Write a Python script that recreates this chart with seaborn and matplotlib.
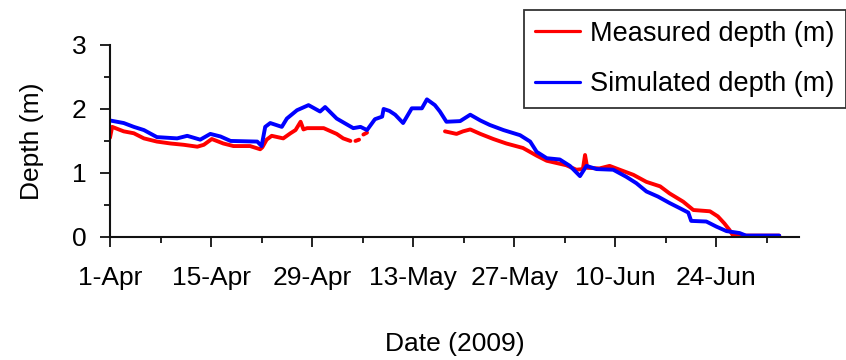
import numpy as np
import pandas as pd
import matplotlib
matplotlib.use("Agg")
import matplotlib.pyplot as plt
from matplotlib.lines import Line2D
import seaborn as sns

# days after 1 April 2009 (nan = gap in the record)
start = pd.Timestamp("2009-04-01")

meas_day = [0, 0.3, 1.9, 3.3, 4.7, 6.5, 8.4, 10.2, 12.1, 13.0,
            14.1, 15.7, 17.1, 19.4, 20.8, 21.1, 21.7, 22.4, 24.0, 25.0,
            25.7, 26.4, 26.8, 27.3, 29.6, 31.4, 32.3, 33.3, 33.7, 34.0,
            34.5, 34.8, 35.1, 35.6, 40.0, 46.4, 48.0, 48.9, 49.9, 51.3,
            53.1, 54.9, 57.2, 59.1, 60.5, 63.2, 64.6, 65.5, 65.8, 66.1,
            67.8, 69.2, 70.6, 72.5, 74.3, 76.2, 77.5, 79.4, 80.8, 83.1,
            84.2, 85.1, 85.8, 86.3, 92.7]
meas_val = [1.55, 1.72, 1.65, 1.62, 1.54, 1.49, 1.46, 1.44, 1.41, 1.44,
            1.53, 1.46, 1.42, 1.42, 1.37, 1.40, 1.52, 1.58, 1.54, 1.62,
            1.67, 1.80, 1.68, 1.70, 1.70, 1.61, 1.54, 1.50, np.nan, 1.50,
            1.52, np.nan, 1.60, 1.63, np.nan, 1.65, 1.61, 1.65, 1.68, 1.61,
            1.53, 1.46, 1.39, 1.27, 1.19, 1.12, 1.05, 1.06, 1.28, 1.08,
            1.07, 1.11, 1.05, 0.97, 0.86, 0.79, 0.68, 0.55, 0.42, 0.40,
            0.32, 0.21, 0.11, 0.02, 0.02]

sim_day = [0, 1.9, 3.3, 4.7, 6.5, 9.3, 10.7, 12.5, 13.9, 15.3,
           16.7, 20.4, 21.0, 21.5, 22.2, 23.8, 24.5, 25.9, 27.5, 29.1,
           29.8, 31.4, 33.7, 34.7, 35.6, 36.7, 37.7, 37.9, 38.7, 39.5,
           40.6, 41.8, 43.2, 43.9, 45.0, 45.7, 46.6, 48.5, 49.9, 51.3,
           52.6, 54.5, 56.8, 58.2, 59.1, 60.5, 62.3, 63.7, 65.1, 66.0,
           67.4, 69.7, 71.5, 72.9, 74.3, 75.9, 77.5, 78.9, 80.1, 80.5,
           82.6, 84.0, 85.4, 87.2, 88.1, 92.7]
sim_val = [1.82, 1.78, 1.72, 1.67, 1.56, 1.54, 1.58, 1.52, 1.61, 1.57,
           1.50, 1.49, 1.42, 1.72, 1.78, 1.72, 1.85, 1.98, 2.06, 1.96,
           2.03, 1.85, 1.70, 1.72, 1.67, 1.84, 1.88, 2.00, 1.97, 1.91,
           1.78, 2.01, 2.01, 2.15, 2.06, 1.96, 1.80, 1.81, 1.91, 1.82,
           1.75, 1.67, 1.59, 1.49, 1.33, 1.23, 1.21, 1.11, 0.95, 1.11,
           1.06, 1.05, 0.94, 0.84, 0.71, 0.63, 0.53, 0.45, 0.38, 0.25,
           0.24, 0.16, 0.09, 0.06, 0.02, 0.02]

major_ticks = pd.date_range(start, periods=7, freq="14D")
minor_ticks = pd.date_range(start, periods=14, freq="7D")
tick_labels = ["1-Apr", "15-Apr", "29-Apr", "13-May", "27-May", "10-Jun", "24-Jun"]

# measured series split into segments at the gaps
meas = pd.DataFrame({"date": start + pd.to_timedelta(meas_day, unit="D"),
                     "depth": meas_val})
meas["seg"] = meas["depth"].isna().cumsum()
meas = meas.dropna()
sim = pd.DataFrame({"date": start + pd.to_timedelta(sim_day, unit="D"),
                    "depth": sim_val})

sns.set_style("ticks")
plt.rcParams["font.family"] = ["Liberation Sans", "DejaVu Sans"]
plt.rcParams["text.color"] = "black"
plt.rcParams["axes.labelcolor"] = "black"
plt.rcParams["xtick.color"] = "black"
plt.rcParams["ytick.color"] = "black"

fig = plt.figure(figsize=(8.46, 3.6), dpi=100)
ax = fig.add_axes([0.130, 0.342, 0.815, 0.533])

sns.lineplot(data=meas, x="date", y="depth", units="seg", estimator=None,
             color="#ff0000", linewidth=2.8, ax=ax, legend=False)
sns.lineplot(data=sim, x="date", y="depth", color="#0000ff",
             linewidth=2.8, ax=ax, legend=False)

ax.set_xlim(start, start + pd.Timedelta(days=95.5))
ax.set_ylim(0, 3)
ax.set_xticks(major_ticks)
ax.set_xticklabels(tick_labels)
ax.set_xticks(minor_ticks, minor=True)
ax.set_yticks([0, 1, 2, 3])
ax.set_yticks([0.5, 1.5, 2.5], minor=True)

for side in ["top", "right"]:
    ax.spines[side].set_visible(False)
for side in ["left", "bottom"]:
    ax.spines[side].set_linewidth(1.5)
    ax.spines[side].set_color("#111111")

ax.tick_params(axis="both", which="major", length=7, width=1.3,
               color="#111111", labelsize=19)
ax.tick_params(axis="both", which="minor", length=4.5, width=1.3,
               color="#111111")
ax.tick_params(axis="x", which="major", pad=14)
ax.tick_params(axis="y", which="major", pad=10)

ax.set_xlabel("Date (2009)", fontsize=19, labelpad=30)
ax.set_ylabel("Depth (m)", fontsize=19, labelpad=20)

handles = [Line2D([], [], color="#ff0000", linewidth=2.3),
           Line2D([], [], color="#0000ff", linewidth=2.3)]
leg = fig.legend(handles, ["Measured depth (m)", "Simulated depth (m)"],
                 loc="upper right", bbox_to_anchor=(0.9995, 0.972),
                 fontsize=19.5, frameon=True, fancybox=False,
                 handlelength=1.65, handletextpad=0.4, borderpad=0.4,
                 labelspacing=0.9, borderaxespad=0)
leg.get_frame().set_edgecolor("black")
leg.get_frame().set_linewidth(1.3)

fig.savefig("out.png", dpi=100)
